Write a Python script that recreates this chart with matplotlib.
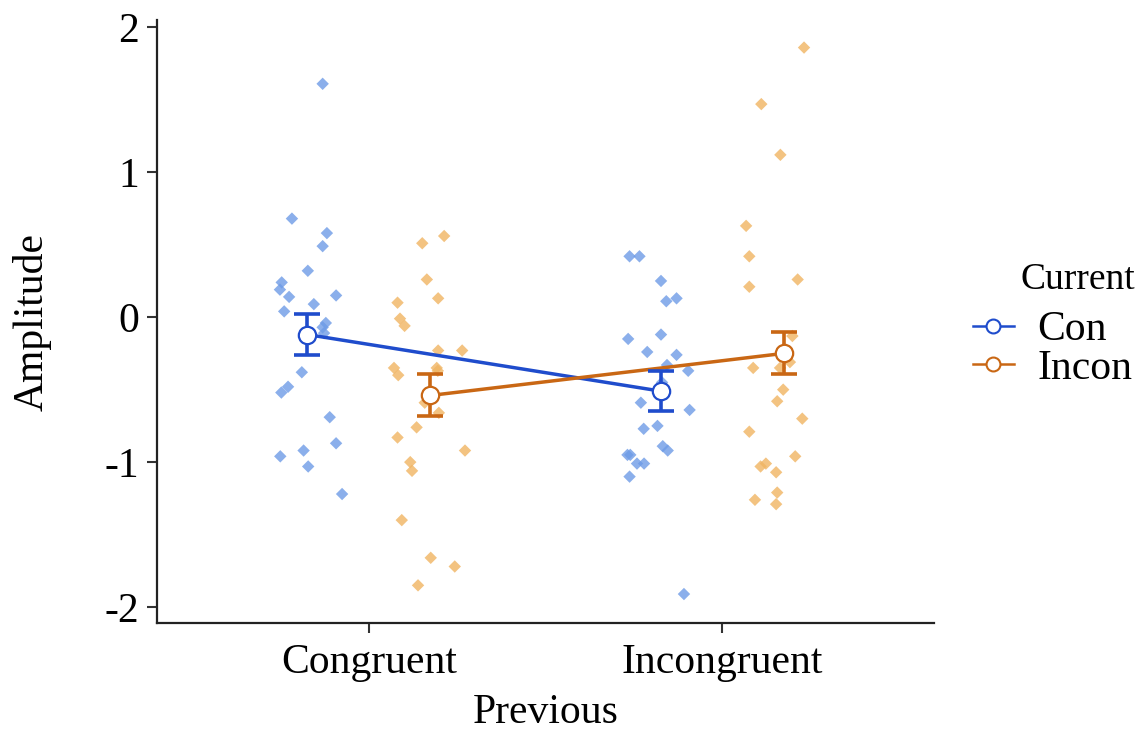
import matplotlib
matplotlib.use("Agg")
import matplotlib.pyplot as plt
from matplotlib.lines import Line2D
import numpy as np

# ---------------- data ----------------
categories = ["Congruent", "Incongruent"]
groups = ["Con", "Incon"]
legend_title = "Current"

# individual values (Amplitude) per condition
con_congruent = [1.61, 0.68, 0.58, 0.49, 0.32, 0.24, 0.19, 0.14, 0.15, 0.09, 0.04,
                 -0.04, -0.07, -0.11, -0.38, -0.48, -0.52, -0.69, -0.87, -0.92,
                 -0.96, -1.03, -1.22]
con_congruent_jit = [0.043, -0.044, 0.055, 0.043, 0.001, -0.073, -0.078, -0.052, 0.081,
                     0.018, -0.066, 0.052, 0.043, 0.047, -0.016, -0.055, -0.074, 0.063,
                     0.081, -0.011, -0.077, 0.002, 0.098]

incon_congruent = [0.56, 0.51, 0.26, 0.13, 0.10, -0.01, -0.06, -0.23, -0.23, -0.35,
                   -0.40, -0.35, -0.37, -0.59, -0.66, -0.76, -0.83, -0.92, -1.00,
                   -1.06, -1.40, -1.66, -1.72, -1.85]
incon_congruent_jit = [0.039, -0.023, -0.010, 0.022, -0.093, -0.086, -0.073, 0.022, 0.090,
                       -0.103, -0.091, 0.018, 0.021, -0.016, 0.024, -0.039, -0.093, 0.098,
                       -0.057, -0.052, -0.081, 0.001, 0.069, -0.035]

con_incongruent = [0.42, 0.42, 0.25, 0.11, 0.13, -0.15, -0.12, -0.24, -0.26, -0.33,
                   -0.37, -0.45, -0.59, -0.64, -0.77, -0.75, -0.89, -0.92, -0.95,
                   -0.95, -1.01, -1.01, -1.10, -1.91]
con_incongruent_jit = [-0.088, -0.060, 0.001, 0.016, 0.045, -0.092, 0.001, -0.038, 0.045,
                       0.018, 0.078, 0.004, -0.056, 0.082, -0.048, -0.009, 0.006, 0.020,
                       -0.094, -0.086, -0.067, -0.047, -0.088, 0.066]

incon_incongruent = [1.86, 1.47, 1.12, 0.63, 0.42, 0.26, 0.21, -0.13, -0.35, -0.31,
                     -0.35, -0.50, -0.58, -0.70, -0.79, -0.96, -1.01, -1.03, -1.07,
                     -1.21, -1.26, -1.29]
incon_incongruent_jit = [0.058, -0.063, -0.009, -0.106, -0.097, 0.040, -0.097, 0.025,
                         -0.086, 0.018, -0.010, -0.001, -0.018, 0.053, -0.097, 0.033,
                         -0.050, -0.065, -0.021, -0.018, -0.081, -0.021]

# group means and standard errors
con_mean = [-0.12, -0.51]
con_se = [0.14, 0.14]
incon_mean = [-0.54, -0.25]
incon_se = [0.145, 0.145]

yticks = [-2, -1, 0, 1, 2]

# ---------------- style ----------------
plt.rcParams['font.family'] = ['Liberation Serif', 'DejaVu Serif']

blue_line = "#1f4ccc"
blue_pt = "#6e9be6"
orange_line = "#c96714"
orange_pt = "#f0b462"
dodge = 0.174

fig = plt.figure(figsize=(11.47, 7.31), dpi=100)
ax = fig.add_axes([0.1369, 0.1477, 0.8143 - 0.1369, 0.9726 - 0.1477])

xpos = np.arange(1, len(categories) + 1)

# jittered points
point_sets = [
    (con_congruent, con_congruent_jit, 0, -dodge, blue_pt),
    (incon_congruent, incon_congruent_jit, 0, dodge, orange_pt),
    (con_incongruent, con_incongruent_jit, 1, -dodge, blue_pt),
    (incon_incongruent, incon_incongruent_jit, 1, dodge, orange_pt),
]
for vals, jit, ci, off, col in point_sets:
    xs = xpos[ci] + off + np.array(jit)
    ax.scatter(xs, vals, marker='D', s=40, color=col, alpha=0.8,
               edgecolors='none', zorder=2)

# means + error bars + lines
for means, ses, off, col in [(con_mean, con_se, -dodge, blue_line),
                             (incon_mean, incon_se, dodge, orange_line)]:
    xs = xpos + off
    ax.plot(xs, means, color=col, lw=2.5, zorder=3)
    ax.errorbar(xs, means, yerr=ses, fmt='none', ecolor=col, elinewidth=2.6,
                capsize=9.5, capthick=2.6, zorder=4)
    ax.plot(xs, means, linestyle='none', marker='o', markersize=12.5,
            markerfacecolor='white', markeredgecolor=col, markeredgewidth=1.6,
            zorder=5)

ax.set_xlim(0.4, 2.6)
ax.set_ylim(-2.11, 2.05)
ax.set_xticks(xpos)
ax.set_xticklabels(categories)
ax.set_yticks(yticks)
ax.set_yticklabels([str(t) for t in yticks])
ax.tick_params(axis='both', labelsize=30, length=7, width=1.5, color='#333333',
               labelcolor='black')
ax.tick_params(axis='y', pad=6)
ax.tick_params(axis='x', pad=8)

for s in ['top', 'right']:
    ax.spines[s].set_visible(False)
for s in ['left', 'bottom']:
    ax.spines[s].set_linewidth(1.6)
    ax.spines[s].set_color('#222222')

ax.set_xlabel("Previous", fontsize=30, labelpad=8)
ax.set_ylabel("Amplitude", fontsize=30, labelpad=38)

handles = [
    Line2D([], [], color=blue_line, lw=1.8, marker='o', markersize=10,
           markerfacecolor='white', markeredgecolor=blue_line, markeredgewidth=1.5),
    Line2D([], [], color=orange_line, lw=1.8, marker='o', markersize=10,
           markerfacecolor='white', markeredgecolor=orange_line, markeredgewidth=1.5),
]
leg = fig.legend(handles, groups, loc='center left',
                 bbox_to_anchor=(0.848, 0.522), frameon=False, fontsize=30,
                 handlelength=1.0, handletextpad=0.55,
                 labelspacing=0.0, borderpad=0.0, borderaxespad=0.0)
fig.text(0.9895, 1 - 280 / 731, legend_title, fontsize=27, ha='right', va='center')

fig.savefig("out.png", dpi=100)
